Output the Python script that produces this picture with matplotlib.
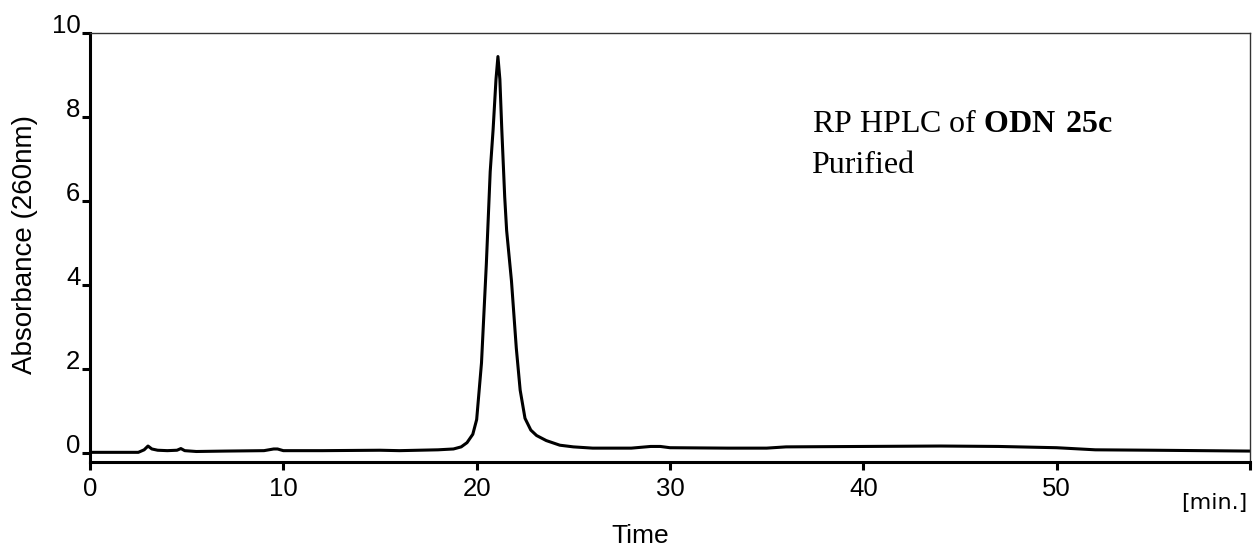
import matplotlib
matplotlib.use("Agg")
import matplotlib.pyplot as plt

# HPLC trace (time in min, absorbance at 260 nm)
times = [0, 2.5, 2.8, 3.0, 3.2, 3.5, 4.0, 4.5, 4.7, 4.9, 5.5, 7, 9, 9.5, 9.7,
         10.0, 12, 15, 16, 17, 18, 18.8, 19.2, 19.5, 19.8, 20.0, 20.25, 20.5,
         20.7, 20.85, 21.0, 21.1, 21.2, 21.3, 21.45, 21.55, 21.8, 22.05, 22.25,
         22.5, 22.8, 23.1, 23.6, 24.3, 25, 26, 28, 29, 29.5, 30, 33, 35, 36, 40,
         44, 47, 50, 52, 55, 60]
absorb = [0.02, 0.02, 0.08, 0.17, 0.1, 0.07, 0.06, 0.07, 0.11, 0.06, 0.04, 0.05,
          0.06, 0.1, 0.1, 0.06, 0.06, 0.07, 0.06, 0.07, 0.08, 0.1, 0.15, 0.25,
          0.45, 0.8, 2.15, 4.5, 6.7, 7.7, 8.9, 9.44, 8.9, 7.7, 6.1, 5.3, 4.1,
          2.5, 1.5, 0.83, 0.55, 0.42, 0.3, 0.19, 0.15, 0.12, 0.12, 0.16, 0.16,
          0.13, 0.12, 0.12, 0.15, 0.16, 0.17, 0.16, 0.13, 0.08, 0.07, 0.05]

x_ticks = [0, 10, 20, 30, 40, 50, 60]
x_labels = ["0", "10", "20", "30", "40", "50", ""]
y_ticks = [0, 2, 4, 6, 8, 10]

plt.rcParams["mathtext.fontset"] = "custom"
plt.rcParams["mathtext.rm"] = "Liberation Serif"
plt.rcParams["mathtext.bf"] = "Liberation Serif:bold"

fig = plt.figure(figsize=(12.54, 5.5), dpi=100)
ax = fig.add_axes([90 / 1254, 88 / 550, 1160 / 1254, 429 / 550])

ax.plot(times, absorb, color="black", lw=2.2, solid_joinstyle="round")
ax.set_xlim(0, 60)
ax.set_ylim(-0.21, 10)

for side in ["left", "bottom"]:
    ax.spines[side].set_linewidth(2.2)
for side in ["top", "right"]:
    ax.spines[side].set_linewidth(1.0)
    ax.spines[side].set_color("#333333")

ax.set_xticks(x_ticks)
ax.set_xticklabels(x_labels, family="Liberation Sans", fontsize=18.5)
ax.set_yticks(y_ticks)
ax.set_yticklabels([str(v) for v in y_ticks], family="Liberation Sans", fontsize=18.5)
ax.tick_params(axis="both", direction="out", length=6, width=2.2)
ax.tick_params(axis="x", pad=5)
ax.tick_params(axis="y", pad=1)
for lab in ax.get_yticklabels():
    lab.set_verticalalignment("baseline")

fig.text(25 / 1254, 1 - 245 / 550, "Absorbance (260nm)", rotation=90,
         ha="center", va="center", family="Liberation Sans", fontsize=20)
fig.text(640 / 1254, 1 - 536 / 550, "Time", ha="center", va="center",
         family="Liberation Sans", fontsize=19)
fig.text(1247 / 1254, 1 - 503 / 550, "[min.]", ha="right", va="center",
         family="DejaVu Sans", fontsize=16)

ax.text(0.622, 0.769, r"RP HPLC of $\mathbf{ODN\ 25c}$", transform=ax.transAxes,
        family="Liberation Serif", fontsize=23, va="baseline")
ax.text(0.622, 0.674, "Purified", transform=ax.transAxes,
        family="Liberation Serif", fontsize=23, va="baseline")

fig.savefig("out.png", dpi=100)
